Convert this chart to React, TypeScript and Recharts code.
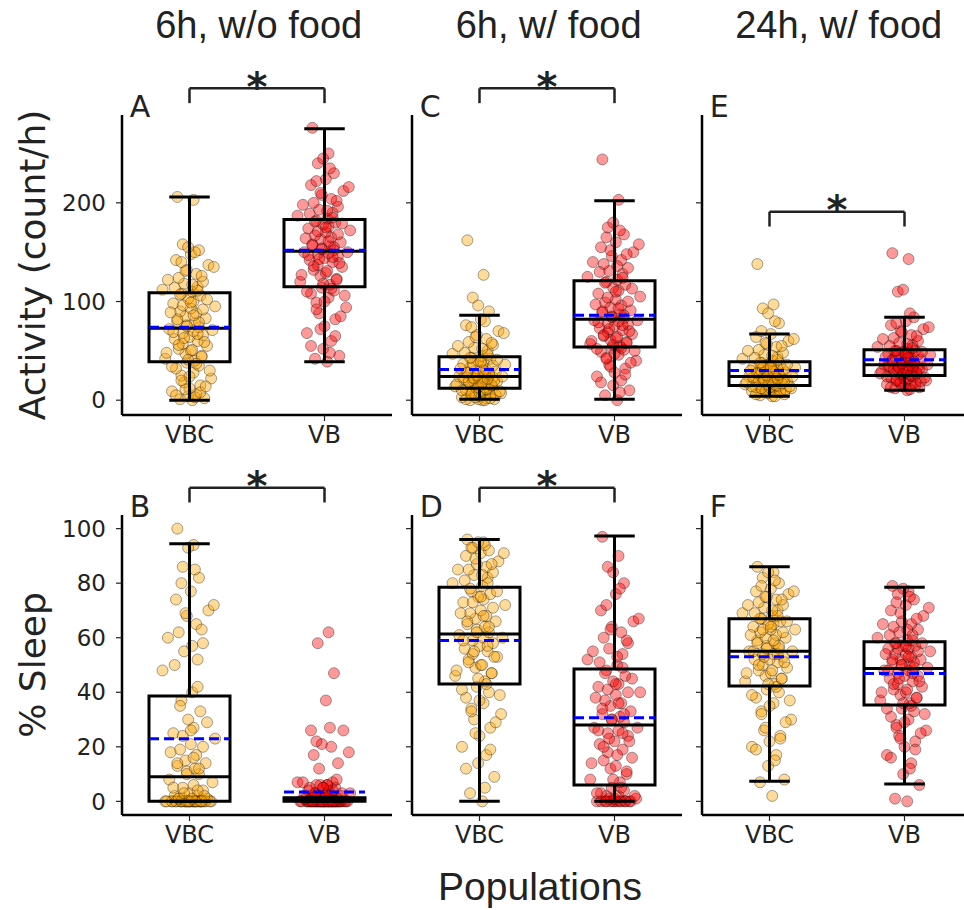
import React from "react";
import {
  ScatterChart,
  Scatter,
  XAxis,
  YAxis,
  ReferenceArea,
  ReferenceLine,
  ReferenceDot,
} from "recharts";

/* -------------------------------------------------------------------------- */
/*  Data                                                                      */
/* -------------------------------------------------------------------------- */

const GROUPS = ["VBC", "VB"];
const TITLES = ["6h, w/o food", "6h, w/ food", "24h, w/ food"];
const ROW_LABELS = ["Activity (count/h)", "% Sleep"];
const X_LABEL = "Populations";

const ACT_TICKS = [0, 100, 200];
const SLEEP_TICKS = [0, 20, 40, 60, 80, 100];
const ACT_DOMAIN = [-15, 289];
const SLEEP_DOMAIN = [-5, 105];

// horizontal strip-plot offsets, reused by index for every group
const JITTER = [
  0.02, -0.07, 0.11, -0.01, 0.05, -0.13, 0.0, 0.08, -0.04, 0.16,
  -0.06, 0.03, -0.1, 0.07, -0.02, 0.04, -0.18, 0.09, -0.03, 0.01,
  -0.08, 0.13, -0.05, 0.06, -0.11, 0.0, 0.1, -0.05, 0.03, -0.15,
  0.07, -0.02, 0.04, -0.09, 0.12, -0.03, 0.05, -0.07, 0.01, 0.19,
  -0.12, 0.03, -0.01, 0.08, -0.06, 0.02, -0.2, 0.06, -0.04, 0.1,
  -0.08, 0.05, -0.02, 0.14, -0.1, 0.01, 0.07, -0.05, 0.03, -0.09,
  0.04, -0.1, 0.08, -0.03, 0.12, -0.06, 0.0, 0.15, -0.13, 0.05,
  -0.01, 0.09, -0.17, 0.02, -0.08, 0.11, -0.04, 0.06, -0.12, 0.17,
  -0.02, 0.07, -0.09, 0.03, -0.14, 0.1, -0.05, 0.01, 0.13, -0.07,
  0.06, -0.11, 0.02, -0.16, 0.09, -0.03, 0.18, -0.06, 0.04, -0.01,
];

// activity, 6h without food
const A_VBC = [
  0, 1, 2, 4, 6, 9, 12, 15, 18, 22, 25, 28, 32, 35, 38,
  40, 42, 45, 47, 50, 52, 55, 57, 60, 62, 64, 66, 68, 70, 72,
  74, 76, 78, 80, 83, 85, 88, 90, 93, 95, 98, 100, 103, 106, 108,
  110, 112, 115, 118, 120, 124, 128, 132, 137, 142, 148, 152, 158, 203, 206,
  3, 5, 8, 11, 14, 20, 24, 30, 34, 37, 41, 44, 48, 51, 56, 59, 63, 67, 69, 71,
  75, 79, 82, 86, 89, 92, 96, 99, 102, 107, 111, 114, 117, 122, 126, 131, 135, 140, 150, 155,
];
const A_VB = [
  39, 42, 45, 52, 60, 68, 75, 82, 88, 94, 99, 104, 108, 111, 114,
  117, 120, 123, 126, 129, 132, 135, 137, 140, 142, 144, 146, 148, 149, 150,
  152, 154, 156, 158, 160, 163, 165, 167, 170, 172, 174, 176, 178, 180, 182,
  184, 187, 190, 193, 196, 200, 204, 208, 212, 218, 224, 230, 240, 250, 276,
  48, 55, 65, 72, 85, 92, 100, 106, 110, 113, 118, 122, 127, 131, 136, 139, 143, 145, 147, 150,
  153, 155, 157, 161, 164, 168, 171, 175, 179, 181, 185, 189, 192, 198, 202, 210, 216, 222, 235, 245,
];

// activity, 6h with food
const C_VBC = [
  0, 0, 1, 1, 2, 3, 4, 5, 6, 7, 8, 9, 10, 11, 12,
  13, 14, 15, 16, 17, 18, 19, 20, 21, 21, 22, 23, 23, 24, 24,
  25, 26, 27, 28, 29, 30, 31, 33, 34, 36, 37, 38, 40, 42, 43,
  45, 47, 50, 53, 56, 59, 62, 66, 70, 76, 82, 90, 104, 127, 162,
  0, 1, 2, 3, 5, 6, 8, 9, 10, 11, 13, 15, 16, 18, 19, 20, 22, 22, 23, 24,
  25, 27, 28, 30, 32, 35, 37, 39, 41, 43, 46, 48, 52, 55, 58, 64, 68, 74, 80, 96,
];
const C_VB = [
  0, 5, 10, 15, 20, 24, 28, 32, 36, 40, 43, 46, 49, 51, 53,
  55, 57, 59, 61, 63, 65, 67, 69, 71, 73, 75, 77, 78, 80, 81,
  83, 85, 87, 89, 91, 94, 96, 99, 102, 105, 108, 111, 114, 117, 120,
  122, 125, 128, 131, 134, 138, 142, 146, 150, 155, 160, 168, 175, 203, 244,
  8, 18, 26, 34, 38, 42, 47, 50, 52, 53, 56, 58, 60, 64, 66, 70, 72, 76, 79, 81,
  84, 86, 90, 93, 97, 100, 104, 110, 113, 119, 124, 130, 136, 140, 148, 152, 158, 165, 172, 180,
];

// activity, 24h with food
const E_VBC = [
  4, 5, 6, 7, 8, 9, 10, 10, 11, 12, 12, 13, 13, 14, 15,
  16, 16, 17, 18, 18, 19, 19, 20, 21, 21, 22, 22, 23, 23, 24,
  25, 26, 27, 28, 28, 29, 30, 31, 32, 33, 34, 35, 36, 37, 38,
  40, 42, 44, 46, 48, 51, 54, 57, 60, 64, 67, 78, 93, 97, 138,
  4, 6, 8, 9, 11, 12, 13, 14, 14, 15, 16, 17, 18, 19, 20, 20, 21, 22, 23, 24,
  25, 26, 27, 29, 30, 31, 33, 34, 36, 38, 41, 43, 45, 50, 55, 58, 62, 70, 80, 88,
];
const E_VB = [
  10, 12, 13, 14, 15, 16, 17, 18, 19, 20, 21, 22, 23, 24, 25,
  26, 27, 28, 28, 29, 30, 31, 31, 32, 33, 33, 34, 35, 35, 36,
  37, 38, 39, 40, 41, 42, 43, 44, 45, 46, 47, 48, 49, 50, 50,
  52, 54, 56, 58, 60, 63, 66, 69, 72, 76, 80, 84, 110, 143, 149,
  11, 13, 15, 17, 19, 20, 22, 23, 24, 25, 26, 27, 29, 30, 31, 32, 33, 34, 35, 36,
  37, 39, 41, 43, 44, 46, 47, 48, 49, 50, 53, 55, 57, 62, 65, 70, 74, 78, 88, 112,
];

// sleep, 6h without food
const B_VBC = [
  0, 0, 0, 0, 0, 0, 0, 0, 0, 0, 0, 0, 0, 0, 0,
  0, 0, 0, 0, 0, 1, 1, 1, 2, 2, 3, 4, 5, 6, 8,
  10, 11, 12, 13, 14, 15, 17, 19, 21, 23, 25, 27, 30, 33, 37,
  40, 48, 52, 55, 58, 62, 65, 68, 70, 74, 77, 82, 86, 94, 100,
  0, 0, 0, 0, 0, 0, 0, 0, 0, 0, 0, 0, 0, 1, 1, 2, 3, 4, 5, 7,
  10, 12, 14, 16, 18, 20, 24, 26, 29, 35, 42, 50, 57, 60, 63, 69, 72, 80, 85, 93,
];
const B_VB = [
  0, 0, 0, 0, 0, 0, 0, 0, 0, 0, 0, 0, 0, 0, 0,
  0, 0, 0, 0, 0, 0, 0, 0, 0, 0, 0, 0, 1, 1, 2,
  0.5, 1, 1, 1.5, 2, 2, 2.5, 3, 3, 3, 4, 4, 5, 5, 6,
  6, 7, 7, 12, 14, 17, 20, 21, 26, 26, 37, 47, 58, 62, 2,
  0, 0, 0, 0, 0, 0, 0, 0, 0, 0, 0, 0, 0, 0, 0, 0, 0, 0, 0, 0,
  0, 0, 0, 0, 1, 1, 2, 2, 3, 3, 4, 5, 6, 7, 8, 6, 18, 22, 27, 5,
];

// sleep, 6h with food
const D_VBC = [
  0, 3, 9, 14, 17, 20, 24, 27, 30, 32, 34, 36, 38, 40, 42,
  44, 46, 47, 49, 50, 52, 53, 54, 55, 56, 57, 58, 59, 60, 61,
  62, 63, 64, 65, 66, 67, 68, 69, 70, 72, 73, 74, 75, 76, 77,
  79, 80, 82, 83, 84, 85, 86, 87, 88, 90, 91, 92, 93, 95, 96,
  5, 12, 19, 25, 29, 33, 37, 39, 41, 43, 45, 47, 48, 50, 51, 53, 55, 57, 59, 60,
  62, 64, 66, 68, 69, 71, 73, 75, 77, 78, 80, 81, 83, 85, 87, 89, 91, 93, 94, 95,
];
const D_VB = [
  0, 0, 0, 0, 0, 0, 0, 0, 1, 1, 2, 2, 3, 4, 5,
  7, 8, 10, 12, 13, 15, 16, 18, 19, 21, 22, 24, 25, 26, 27,
  29, 30, 31, 32, 33, 35, 36, 37, 39, 40, 42, 43, 44, 46, 48,
  50, 52, 54, 56, 58, 60, 62, 64, 66, 70, 76, 80, 86, 90, 97,
  0, 0, 0, 0, 0, 0, 1, 2, 3, 5, 8, 11, 14, 17, 20, 22, 23, 25, 26, 27,
  30, 32, 34, 36, 38, 40, 41, 43, 45, 47, 49, 51, 53, 55, 59, 63, 67, 72, 78, 84,
];

// sleep, 24h with food
const F_VBC = [
  2, 7, 8, 13, 17, 20, 22, 24, 26, 30, 33, 36, 38, 40, 41,
  43, 44, 45, 46, 47, 48, 49, 50, 51, 52, 52, 53, 54, 54, 55,
  56, 57, 58, 59, 60, 60, 61, 62, 63, 63, 64, 65, 65, 66, 67,
  68, 69, 70, 71, 72, 73, 74, 75, 76, 77, 78, 80, 82, 84, 86,
  15, 19, 23, 27, 29, 32, 35, 37, 39, 42, 43, 45, 47, 48, 50, 51, 53, 54, 55, 55,
  56, 57, 58, 59, 61, 62, 63, 64, 66, 67, 68, 69, 70, 72, 74, 75, 77, 79, 81, 84,
];
const F_VB = [
  0, 1, 6, 10, 14, 17, 20, 22, 24, 26, 28, 30, 31, 33, 34,
  36, 37, 38, 39, 40, 41, 42, 43, 44, 45, 46, 46, 47, 48, 48,
  49, 50, 50, 51, 52, 52, 53, 54, 54, 55, 56, 56, 57, 57, 58,
  59, 60, 61, 62, 63, 64, 65, 66, 68, 70, 72, 74, 76, 77, 79,
  12, 16, 19, 23, 25, 27, 29, 32, 34, 35, 36, 38, 40, 41, 43, 44, 45, 47, 48, 49,
  50, 51, 52, 53, 54, 55, 56, 57, 58, 58, 59, 61, 63, 65, 67, 69, 71, 73, 75, 78,
];

// box stats per group: [whisker low, Q1, median, mean, Q3, whisker high]
const A_BOX = [[0, 39, 73, 74, 109, 206], [39, 115, 151, 152, 183, 275]];
const C_BOX = [[1, 12, 24, 31, 44, 86], [1, 54, 82, 86, 121, 202]];
const E_BOX = [[4, 15, 24, 30, 39, 67], [10, 25, 36, 41, 51, 84]];
const B_BOX = [[0, 0, 9, 23, 38.6, 94.5], [0, 0, 0.3, 3.4, 1.3, 1.3]];
const D_BOX = [[0, 43, 61.4, 59, 78.5, 96], [0, 6, 28, 30.7, 48.5, 97.3]];
const F_BOX = [[7.4, 42.3, 55, 53, 67, 86], [6.4, 35.3, 48.7, 46.9, 58.5, 78.5]];

// significance bracket: [leg bottom, bar, star anchor]
const A_SIG = [301, 316, 318];
const C_SIG = [301, 316, 318];
const E_SIG = [176, 191, 193];
const B_SIG = [109.6, 115, 115.6];
const D_SIG = [109.6, 115, 115.6];

/* -------------------------------------------------------------------------- */
/*  Layout                                                                    */
/* -------------------------------------------------------------------------- */

const PLOT_W = 270;
const PLOT_H = 300;
const COL_X = [121.7, 411.7, 701.7];
const ROW_Y = [115, 515];
const M_TOP = 70;
const Y_W = 100;
const X_H = 50;

const ORANGE = "#FFA500";
const RED = "#FF0000";
const INK = "#222";

const PANELS = [
  { letter: "A", row: 0, col: 0, vals: [A_VBC, A_VB], box: A_BOX, sig: A_SIG },
  { letter: "C", row: 0, col: 1, vals: [C_VBC, C_VB], box: C_BOX, sig: C_SIG },
  { letter: "E", row: 0, col: 2, vals: [E_VBC, E_VB], box: E_BOX, sig: E_SIG },
  { letter: "B", row: 1, col: 0, vals: [B_VBC, B_VB], box: B_BOX, sig: B_SIG },
  { letter: "D", row: 1, col: 1, vals: [D_VBC, D_VB], box: D_BOX, sig: D_SIG },
  { letter: "F", row: 1, col: 2, vals: [F_VBC, F_VB], box: F_BOX, sig: null },
];

/* -------------------------------------------------------------------------- */
/*  Helpers                                                                   */
/* -------------------------------------------------------------------------- */

const toPoints = (vals: number[], g: number) =>
  vals.map((y, i) => ({ x: g + JITTER[i % JITTER.length], y }));

const dot = (color: string) => (props: any) => (
  <circle
    cx={props.cx}
    cy={props.cy}
    r={5.5}
    fill={color}
    fillOpacity={0.4}
    stroke="#000"
    strokeOpacity={0.35}
    strokeWidth={1}
  />
);

const seg = (key: string, x1: number, y1: number, x2: number, y2: number, extra: any = {}) => (
  <ReferenceLine
    key={key}
    segment={[{ x: x1, y: y1 }, { x: x2, y: y2 }]}
    stroke="#000"
    strokeWidth={3}
    ifOverflow="visible"
    zIndex={700}
    {...extra}
  />
);

function boxMarks(b: number[], g: number) {
  const [lo, q1, med, mean, q3, hi] = b;
  return [
    <ReferenceArea
      key={`box${g}`}
      x1={g - 0.3}
      x2={g + 0.3}
      y1={q1}
      y2={q3}
      fill="none"
      stroke="#000"
      strokeWidth={3}
      ifOverflow="visible"
      zIndex={700}
    />,
    seg(`wl${g}`, g, lo, g, q1),
    seg(`wh${g}`, g, q3, g, hi),
    seg(`cl${g}`, g - 0.15, lo, g + 0.15, lo),
    seg(`ch${g}`, g - 0.15, hi, g + 0.15, hi),
    seg(`md${g}`, g - 0.3, med, g + 0.3, med),
    seg(`mn${g}`, g - 0.3, mean, g + 0.3, mean, { stroke: "#0000FF", strokeDasharray: "10 5" }),
  ];
}

function sigMarks(s: number[] | null) {
  if (!s) return [];
  const [leg, bar, star] = s;
  const br = { stroke: INK, strokeWidth: 2.5 };
  return [
    seg("s0", 0, leg, 0, bar, br),
    seg("s1", 0, bar, 1, bar, br),
    seg("s2", 1, bar, 1, leg, br),
    <ReferenceDot
      key="star"
      x={0.5}
      y={star}
      r={0}
      fill="none"
      stroke="none"
      ifOverflow="visible"
      label={{ value: "*", position: "center", fontSize: 40, fontWeight: "bold", fill: INK, fontFamily: "DejaVu Sans" }}
    />,
  ];
}

function Panel({ p }: { p: any }) {
  const act = p.row === 0;
  return (
    <div style={{ position: "absolute", left: COL_X[p.col] - Y_W, top: ROW_Y[p.row] - M_TOP }}>
      <ScatterChart
        width={Y_W + PLOT_W + 10}
        height={M_TOP + PLOT_H + X_H}
        margin={{ top: M_TOP, right: 10, bottom: 0, left: 0 }}
      >
        <XAxis
          type="number"
          dataKey="x"
          domain={[-0.5, 1.5]}
          ticks={[0, 1]}
          tickFormatter={(v) => GROUPS[v]}
          height={X_H}
          axisLine={{ stroke: "#000", strokeWidth: 2.5 }}
          tickLine={{ stroke: INK, strokeWidth: 1.2 }}
          tickSize={6}
          tickMargin={5}
          tick={{ fontSize: 24, fill: INK, fontFamily: "DejaVu Sans" }}
        />
        <YAxis
          type="number"
          dataKey="y"
          domain={act ? ACT_DOMAIN : SLEEP_DOMAIN}
          ticks={act ? ACT_TICKS : SLEEP_TICKS}
          width={Y_W}
          axisLine={{ stroke: "#000", strokeWidth: 2.5 }}
          tickLine={{ stroke: INK, strokeWidth: 1.2 }}
          tickSize={6}
          tickMargin={10}
          tickFormatter={p.col === 0 ? (v) => String(v) : () => ""}
          tick={{ fontSize: 23, fill: INK, fontFamily: "DejaVu Sans" }}
        />
        <Scatter data={toPoints(p.vals[0], 0)} shape={dot(ORANGE)} isAnimationActive={false} />
        <Scatter data={toPoints(p.vals[1], 1)} shape={dot(RED)} isAnimationActive={false} />
        {boxMarks(p.box[0], 0)}
        {boxMarks(p.box[1], 1)}
        {sigMarks(p.sig)}
      </ScatterChart>
    </div>
  );
}

export default function App() {
  return (
    <div style={{ position: "absolute", left: 0, top: 0, width: 964, height: 910, overflow: "hidden", background: "#fff" }}>
      {PANELS.map((p) => (
        <Panel key={p.letter} p={p} />
      ))}
      <svg width={964} height={910} style={{ position: "absolute", left: 0, top: 0, pointerEvents: "none" }}>
        {TITLES.map((t, c) => (
          <text key={t} x={COL_X[c] + PLOT_W / 2 + 2} y={38} textAnchor="middle" fontSize={38} fill={INK} fontFamily="Liberation Sans">
            {t}
          </text>
        ))}
        {ROW_LABELS.map((t, r) => (
          <text
            key={t}
            transform={`translate(45, ${ROW_Y[r] + PLOT_H / 2}) rotate(-90)`}
            textAnchor="middle"
            fontSize={36}
            fill={INK}
            fontFamily="DejaVu Sans"
          >
            {t}
          </text>
        ))}
        {PANELS.map((p) => (
          <text key={p.letter} x={COL_X[p.col] + 8} y={ROW_Y[p.row] + 2} fontSize={30} fill={INK} fontFamily="DejaVu Sans">
            {p.letter}
          </text>
        ))}
        <text x={540} y={900} textAnchor="middle" fontSize={39} fill={INK} fontFamily="Liberation Sans">
          {X_LABEL}
        </text>
      </svg>
    </div>
  );
}
